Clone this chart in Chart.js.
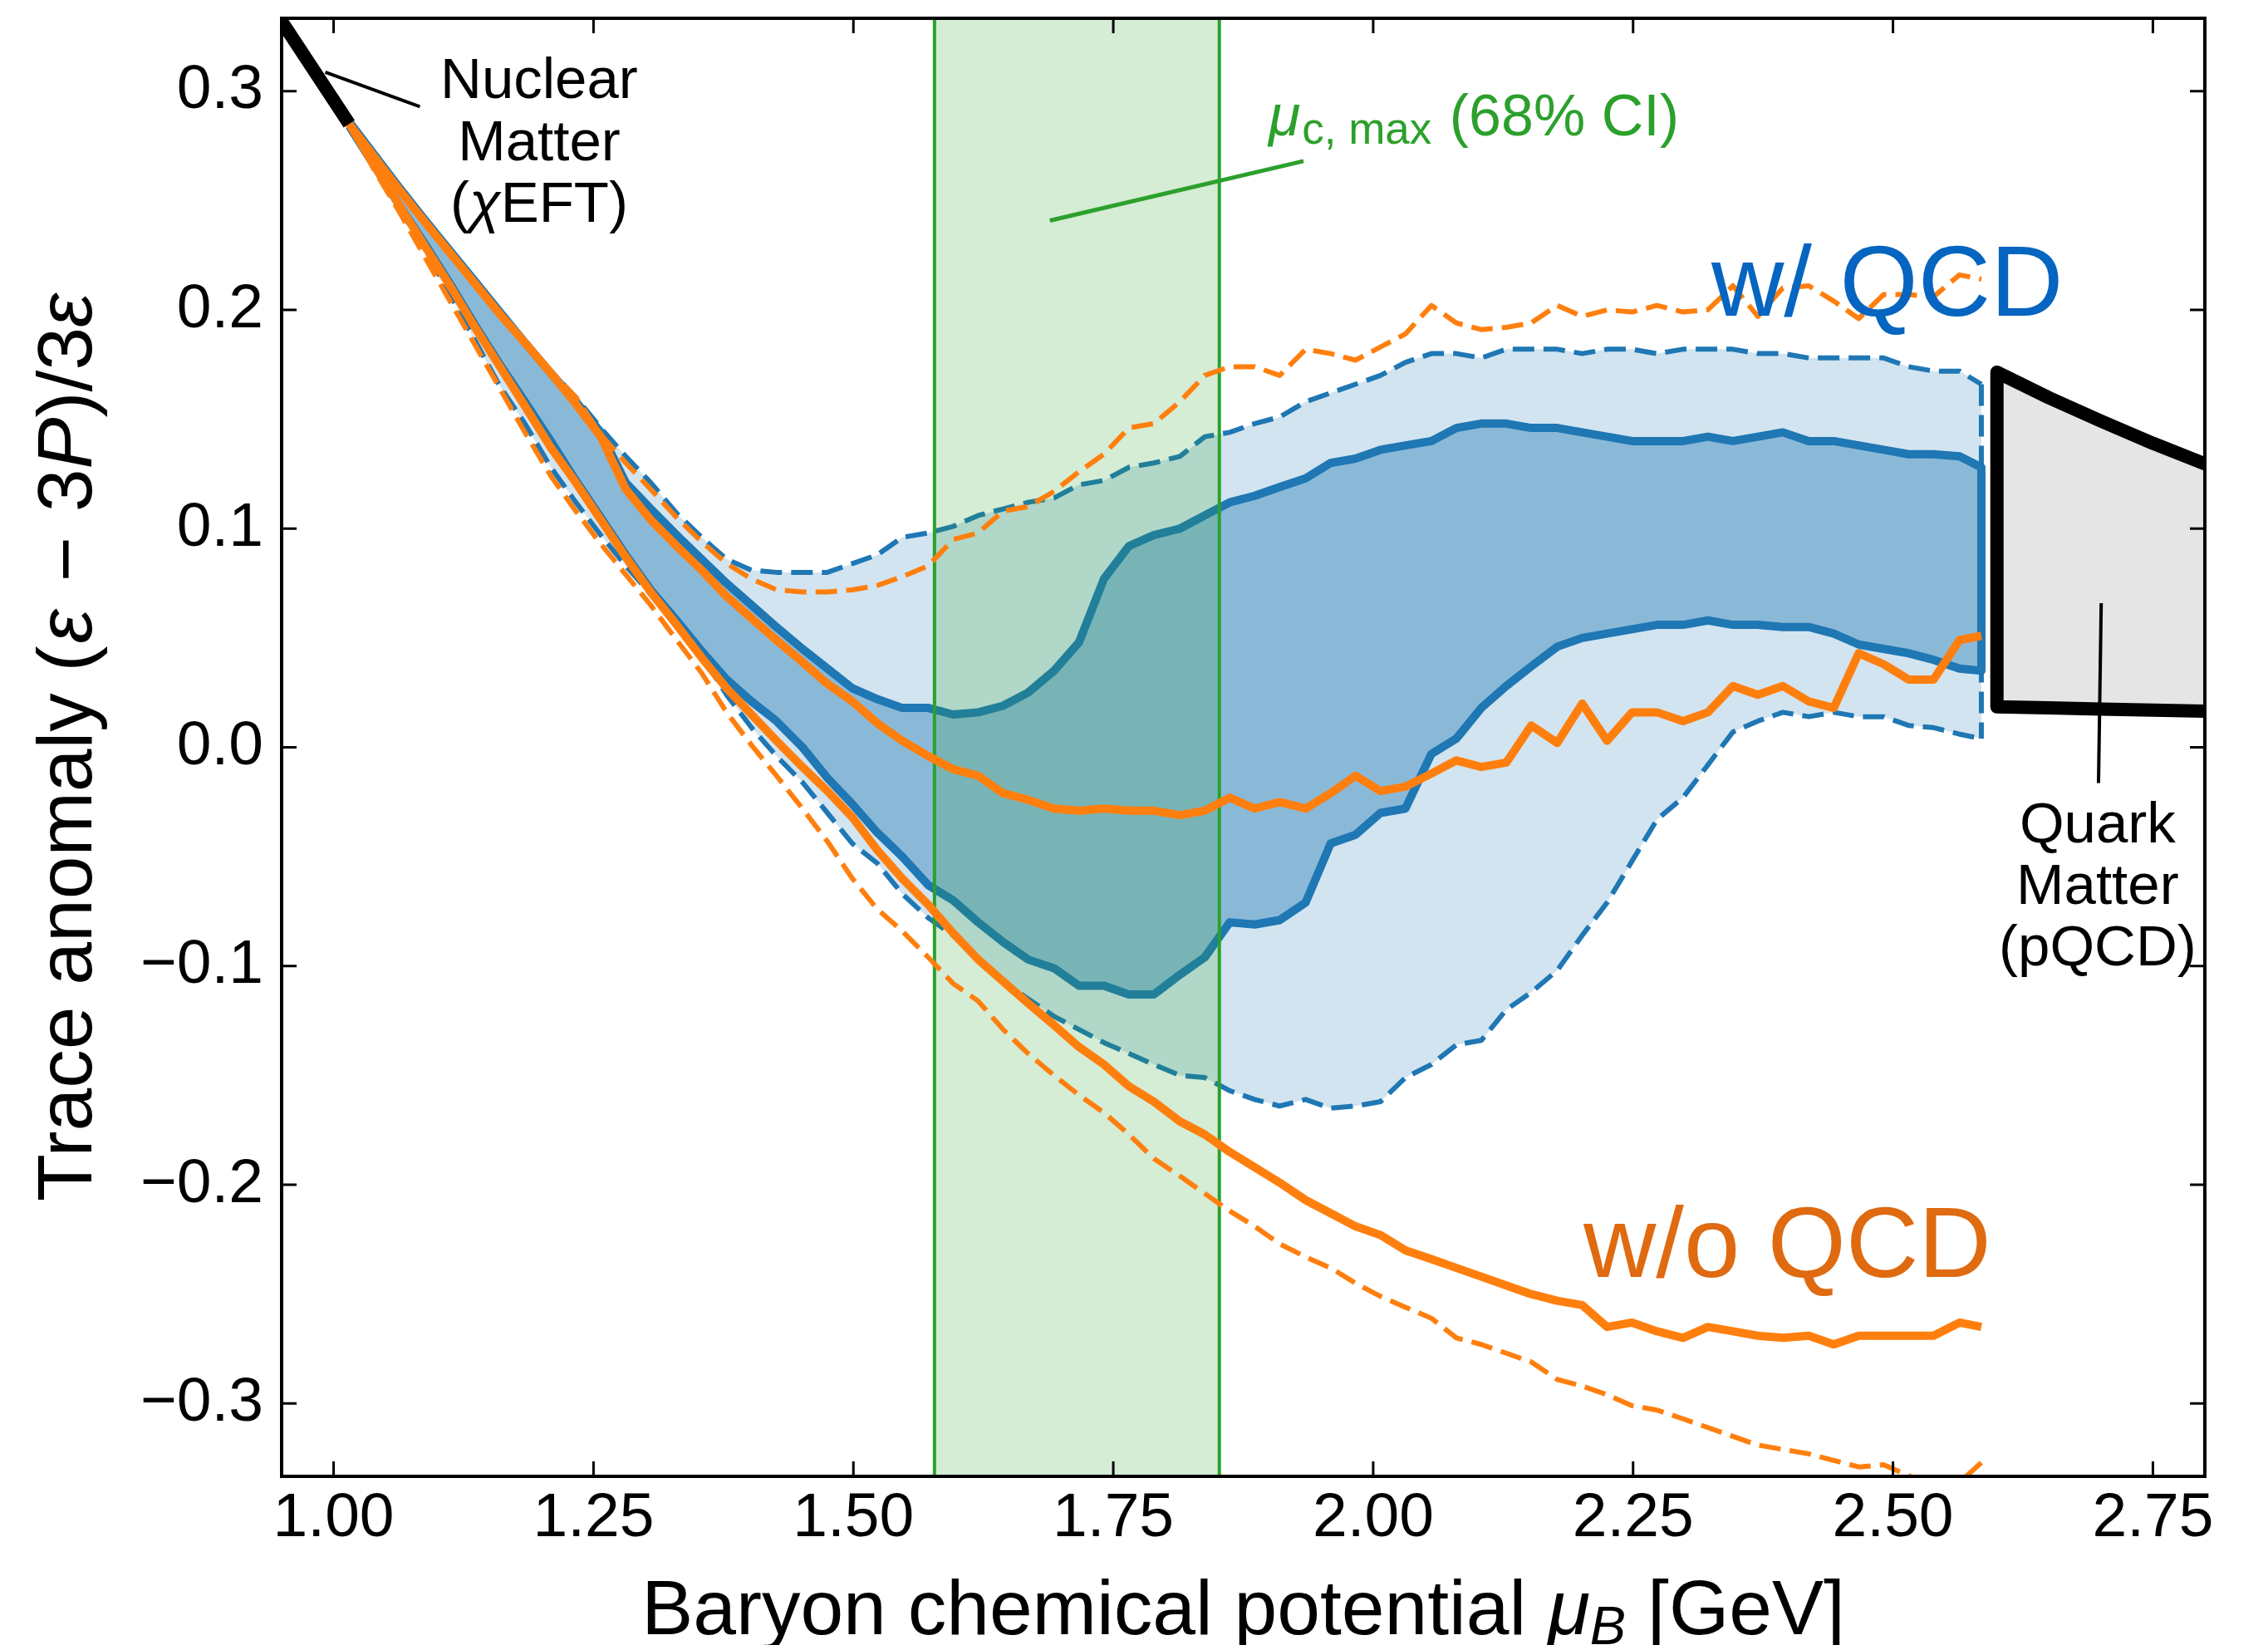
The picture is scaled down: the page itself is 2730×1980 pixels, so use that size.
<!DOCTYPE html>
<html>
<head>
<meta charset="utf-8">
<script src="https://cdn.jsdelivr.net/npm/chart.js@4/dist/chart.umd.min.js"></script>
<style>
html,body{margin:0;padding:0;background:#fff;}
#wrap{width:2730px;height:1980px;position:relative;}
canvas{display:block;}
</style>
</head>
<body>
<div id="wrap"><canvas id="c" width="2730" height="1980"></canvas></div>
<script>
// ---------------- data ----------------
const mu = [1.015,1.039,1.063,1.088,1.112,1.136,1.160,1.184,1.209,1.233,
  1.257,1.281,1.305,1.330,1.354,1.378,1.402,1.426,1.451,1.475,
  1.499,1.523,1.547,1.572,1.596,1.620,1.644,1.668,1.693,1.717,
  1.741,1.765,1.789,1.814,1.838,1.862,1.886,1.910,1.935,1.959,
  1.983,2.007,2.031,2.056,2.080,2.104,2.128,2.152,2.177,2.201,
  2.225,2.249,2.273,2.298,2.322,2.346,2.370,2.394,2.419,2.443,
  2.467,2.491,2.515,2.539,2.564,2.585];

// with QCD, 95% band (dashed edges)
const wqcd95Upper = [0.286,0.271,0.256,0.242,0.227,0.213,0.199,0.186,0.172,0.160,
  0.146,0.133,0.121,0.107,0.096,0.086,0.081,0.080,0.080,0.080,
  0.084,0.088,0.096,0.098,0.101,0.106,0.109,0.112,0.114,0.120,
  0.122,0.128,0.130,0.133,0.142,0.144,0.148,0.151,0.158,0.162,
  0.166,0.170,0.176,0.180,0.180,0.178,0.182,0.182,0.182,0.180,
  0.182,0.182,0.180,0.182,0.182,0.182,0.180,0.180,0.178,0.178,
  0.178,0.178,0.174,0.172,0.172,0.166];
const wqcd95Lower = [0.284,0.265,0.246,0.228,0.207,0.186,0.165,0.148,0.128,0.112,
  0.097,0.083,0.070,0.055,0.042,0.024,0.009,-0.004,-0.016,-0.030,
  -0.044,-0.053,-0.067,-0.078,-0.086,-0.097,-0.107,-0.115,-0.123,-0.129,
  -0.135,-0.140,-0.145,-0.150,-0.151,-0.157,-0.161,-0.164,-0.161,-0.165,
  -0.164,-0.162,-0.151,-0.145,-0.136,-0.134,-0.120,-0.112,-0.102,-0.086,
  -0.071,-0.052,-0.033,-0.023,-0.008,0.007,0.012,0.016,0.014,0.016,
  0.014,0.014,0.010,0.009,0.006,0.004];
// with QCD, 68% band (solid edges)
const wqcd68Upper = [0.286,0.271,0.256,0.241,0.227,0.213,0.199,0.185,0.171,0.158,
  0.144,0.121,0.109,0.097,0.086,0.075,0.065,0.055,0.045,0.036,
  0.027,0.022,0.018,0.018,0.015,0.016,0.019,0.025,0.035,0.048,
  0.077,0.092,0.097,0.100,0.106,0.112,0.115,0.119,0.123,0.130,
  0.132,0.136,0.138,0.140,0.146,0.148,0.148,0.146,0.146,0.144,
  0.142,0.140,0.140,0.140,0.142,0.140,0.142,0.144,0.140,0.140,
  0.138,0.136,0.134,0.134,0.133,0.128];
const wqcd68Lower = [0.284,0.266,0.248,0.230,0.212,0.193,0.175,0.158,0.140,0.122,
  0.105,0.088,0.072,0.058,0.044,0.031,0.021,0.012,0.000,-0.014,
  -0.026,-0.039,-0.050,-0.063,-0.070,-0.080,-0.089,-0.097,-0.101,-0.109,
  -0.109,-0.113,-0.113,-0.104,-0.096,-0.080,-0.081,-0.079,-0.071,-0.044,
  -0.040,-0.030,-0.028,-0.003,0.004,0.018,0.028,0.037,0.046,0.050,
  0.052,0.054,0.056,0.056,0.058,0.056,0.056,0.055,0.055,0.052,
  0.047,0.045,0.043,0.040,0.036,0.035];
// without QCD, 68% (solid) and 95% (dashed)
const woqcd68Upper = [0.285,0.270,0.255,0.240,0.226,0.212,0.198,0.185,0.171,0.157,
  0.142,0.118,0.104,0.092,0.081,0.069,0.059,0.049,0.039,0.029,
  0.021,0.011,0.003,-0.004,-0.010,-0.013,-0.021,-0.024,-0.028,-0.029,
  -0.028,-0.029,-0.029,-0.031,-0.029,-0.023,-0.028,-0.025,-0.028,-0.021,
  -0.013,-0.020,-0.018,-0.012,-0.006,-0.009,-0.007,0.010,0.002,0.020,
  0.003,0.016,0.016,0.012,0.016,0.028,0.024,0.028,0.021,0.018,
  0.043,0.038,0.031,0.031,0.049,0.051];
const woqcd68Lower = [0.285,0.266,0.248,0.229,0.211,0.192,0.174,0.156,0.137,0.121,
  0.104,0.087,0.071,0.056,0.041,0.027,0.015,0.003,-0.009,-0.020,
  -0.032,-0.047,-0.060,-0.072,-0.085,-0.097,-0.107,-0.117,-0.127,-0.137,
  -0.145,-0.155,-0.162,-0.171,-0.177,-0.185,-0.192,-0.199,-0.207,-0.213,
  -0.219,-0.223,-0.230,-0.234,-0.238,-0.242,-0.246,-0.250,-0.253,-0.255,
  -0.265,-0.263,-0.267,-0.270,-0.265,-0.267,-0.269,-0.270,-0.269,-0.273,
  -0.269,-0.269,-0.269,-0.269,-0.263,-0.265];
const woqcd95Upper = [0.285,0.270,0.255,0.241,0.226,0.212,0.198,0.185,0.172,0.160,
  0.143,0.130,0.118,0.105,0.094,0.084,0.077,0.072,0.071,0.071,
  0.072,0.074,0.078,0.083,0.095,0.098,0.108,0.110,0.117,0.126,
  0.134,0.146,0.148,0.158,0.170,0.174,0.174,0.170,0.182,0.180,
  0.177,0.183,0.189,0.202,0.194,0.191,0.192,0.194,0.202,0.197,
  0.200,0.199,0.202,0.199,0.200,0.211,0.197,0.210,0.211,0.204,
  0.196,0.207,0.207,0.206,0.216,0.214];
const woqcd95Lower = [0.285,0.264,0.245,0.224,0.204,0.184,0.164,0.144,0.124,0.108,
  0.093,0.079,0.065,0.049,0.034,0.016,0.001,-0.013,-0.028,-0.043,
  -0.060,-0.074,-0.084,-0.096,-0.108,-0.116,-0.129,-0.140,-0.150,-0.159,
  -0.167,-0.177,-0.188,-0.196,-0.204,-0.212,-0.219,-0.227,-0.233,-0.238,
  -0.245,-0.251,-0.256,-0.261,-0.270,-0.273,-0.277,-0.281,-0.289,-0.292,
  -0.296,-0.301,-0.303,-0.307,-0.311,-0.315,-0.319,-0.321,-0.323,-0.326,
  -0.329,-0.328,-0.333,-0.337,-0.336,-0.327];

// nuclear matter (chiEFT) segment
const chiEftMu = [0.945, 1.015];
const chiEftVal = [0.3355, 0.285];
// quark matter (pQCD) region
const pqcdMu = [2.60, 2.65, 2.70, 2.75, 2.80];
const pqcdUpper = [0.1715, 0.1598, 0.1492, 0.1390, 0.1296];
const pqcdLower = [0.0185, 0.0180, 0.0175, 0.0170, 0.0165];
// mu_c,max 68% credible interval
const muCmax = [1.578, 1.852];

// ticks
const xTicks = [1.00, 1.25, 1.50, 1.75, 2.00, 2.25, 2.50, 2.75];
const yTicks = [-0.3, -0.2, -0.1, 0.0, 0.1, 0.2, 0.3];

// annotation connector lines (data coordinates)
const nuclearPointer = {x: [0.992, 1.083], y: [0.3087, 0.2929]};
const quarkPointer = {x: [2.7003, 2.6977], y: [0.0659, -0.0163]};
const muPointer = {x: [1.689, 1.933], y: [0.2408, 0.2680]};

// ---------------- styling ----------------
const FONT = '"Liberation Sans", Arial, Helvetica, sans-serif';
const BLUE = '#1f77b4', ORANGE = '#ff7f0e', GREEN = '#2ca02c';
const DASH = [26, 11];
const pts = (xs, ys) => xs.map((x, i) => ({x: x, y: ys[i]}));
const last = a => a[a.length - 1];
const muEnd = last(mu);

function line(data, color, width, extra) {
  return Object.assign({
    type: 'line', data: data, borderColor: color, borderWidth: width,
    pointRadius: 0, pointHoverRadius: 0, fill: false, tension: 0, clip: 0,
    borderJoinStyle: 'round', borderCapStyle: 'butt'
  }, extra || {});
}

const pqcdOutline = pts(pqcdMu.slice().reverse(), pqcdLower.slice().reverse())
  .concat(pts(pqcdMu, pqcdUpper));

const datasets = [
  line(pts(mu, wqcd95Upper), BLUE, 6, {borderDash: DASH, fill: '+1', backgroundColor: 'rgba(31,119,180,0.2)', order: 40}),
  line(pts(mu, wqcd95Lower), BLUE, 6, {borderDash: DASH, order: 39}),
  line([{x: muEnd, y: last(wqcd95Upper)}, {x: muEnd, y: last(wqcd95Lower)}], BLUE, 6, {borderDash: DASH, order: 38}),
  line(pts(mu, wqcd68Upper), BLUE, 10, {fill: '+1', backgroundColor: 'rgba(31,119,180,0.4)', order: 37}),
  line(pts(mu, wqcd68Lower), BLUE, 10, {order: 36}),
  line([{x: muEnd, y: last(wqcd68Upper)}, {x: muEnd, y: last(wqcd68Lower)}], BLUE, 10, {order: 35}),
  // green credible-interval span
  line([{x: muCmax[0], y: 0.5}, {x: muCmax[1], y: 0.5}], 'rgba(0,0,0,0)', 1, {fill: {value: -0.5}, backgroundColor: 'rgba(44,160,44,0.2)', order: 34}),
  line([{x: muCmax[0], y: -0.5}, {x: muCmax[0], y: 0.5}], GREEN, 4, {order: 33}),
  line([{x: muCmax[1], y: -0.5}, {x: muCmax[1], y: 0.5}], GREEN, 4, {order: 32}),
  // without QCD
  line(pts(mu, woqcd95Upper), ORANGE, 6, {borderDash: DASH, order: 31}),
  line(pts(mu, woqcd95Lower), ORANGE, 6, {borderDash: DASH, order: 30}),
  line(pts(mu, woqcd68Upper), ORANGE, 10, {order: 29}),
  line(pts(mu, woqcd68Lower), ORANGE, 10, {order: 28}),
  // chiEFT
  line(pts(chiEftMu, chiEftVal), '#000', 16, {order: 27}),
  // pQCD region
  line(pts(pqcdMu, pqcdUpper), 'rgba(0,0,0,0)', 1, {fill: '+1', backgroundColor: '#e5e5e5', order: 26}),
  line(pts(pqcdMu, pqcdLower), 'rgba(0,0,0,0)', 1, {order: 25}),
  line(pqcdOutline, '#000', 16, {order: 24, borderCapStyle: 'round'}),
  // annotation connectors
  line(pts(nuclearPointer.x, nuclearPointer.y), '#000', 4, {order: 23}),
  line(pts(quarkPointer.x, quarkPointer.y), '#000', 4, {order: 22}),
  line(pts(muPointer.x, muPointer.y), GREEN, 5, {order: 21})
];

// ---------------- rich text helper ----------------
function drawRich(ctx, parts, x, y, align) {
  let total = 0;
  const ws = parts.map(p => { ctx.font = p.f; const w = ctx.measureText(p.t).width + (p.gap || 0) * 2; total += w; return w; });
  let cx = align === 'center' ? x - total / 2 : (align === 'right' ? x - total : x);
  ctx.textAlign = 'left';
  ctx.textBaseline = 'alphabetic';
  parts.forEach((p, i) => {
    ctx.font = p.f;
    if (p.c) ctx.fillStyle = p.c;
    ctx.fillText(p.t, cx + (p.gap || 0), y + (p.dy || 0));
    cx += ws[i];
  });
}
const F = (size, italic) => (italic ? 'italic ' : '') + size + 'px ' + FONT;

const decor = {
  id: 'decor',
  afterDatasetsDraw(chart) {
    const {ctx, scales: {x, y}} = chart;
    ctx.save();
    ctx.fillStyle = '#000';
    // Nuclear matter label
    let px = x.getPixelForValue(1.1977), py = y.getPixelForValue(0.2968);
    drawRich(ctx, [{t: 'Nuclear', f: F(69)}], px, py, 'center');
    drawRich(ctx, [{t: 'Matter', f: F(69)}], px, py + 74.5, 'center');
    drawRich(ctx, [{t: '(', f: F(69)}, {t: 'χ', f: F(69, true)}, {t: 'EFT)', f: F(69)}], px, py + 149, 'center');
    // Quark matter label
    px = x.getPixelForValue(2.6968); py = y.getPixelForValue(-0.0435);
    drawRich(ctx, [{t: 'Quark', f: F(69)}], px, py, 'center');
    drawRich(ctx, [{t: 'Matter', f: F(69)}], px, py + 74, 'center');
    drawRich(ctx, [{t: '(pQCD)', f: F(69)}], px, py + 148, 'center');
    // mu_c,max label
    px = x.getPixelForValue(1.8993); py = y.getPixelForValue(0.2798);
    drawRich(ctx, [
      {t: 'μ', f: F(70, true), c: GREEN},
      {t: 'c, max', f: F(53), dy: 10, c: GREEN, gap: 2},
      {t: ' (68% CI)', f: F(70), c: GREEN}
    ], px, py, 'left');
    // w/ QCD, w/o QCD
    drawRich(ctx, [{t: 'w/ QCD', f: F(121), c: '#0565c0'}], x.getPixelForValue(2.3253), y.getPixelForValue(0.1973), 'left');
    drawRich(ctx, [{t: 'w/o QCD', f: F(121), c: '#df6a10'}], x.getPixelForValue(2.2022), y.getPixelForValue(-0.2421), 'left');
    ctx.restore();
  },
  afterDraw(chart) {
    const {ctx, scales: {x, y}, chartArea: a} = chart;
    ctx.save();
    ctx.strokeStyle = '#000';
    ctx.lineCap = 'butt';
    ctx.lineWidth = 3;
    ctx.beginPath();
    xTicks.forEach(v => {
      const p = x.getPixelForValue(v);
      ctx.moveTo(p, a.bottom); ctx.lineTo(p, a.bottom - 18);
      ctx.moveTo(p, a.top); ctx.lineTo(p, a.top + 18);
    });
    yTicks.forEach(v => {
      const p = y.getPixelForValue(v);
      ctx.moveTo(a.left, p); ctx.lineTo(a.left + 18, p);
      ctx.moveTo(a.right, p); ctx.lineTo(a.right - 18, p);
    });
    ctx.stroke();
    ctx.lineWidth = 4;
    ctx.lineJoin = 'miter';
    ctx.strokeRect(a.left, a.top, a.right - a.left, a.bottom - a.top);
    // axis titles
    ctx.fillStyle = '#000';
    drawRich(ctx, [
      {t: 'Baryon chemical potential ', f: F(93)},
      {t: 'μ', f: F(93, true)},
      {t: 'B', f: F(65, true), dy: 12},
      {t: ' [GeV]', f: F(93)}
    ], (a.left + a.right) / 2, 1967, 'center');
    ctx.translate(110, (a.top + a.bottom) / 2);
    ctx.rotate(-Math.PI / 2);
    drawRich(ctx, [
      {t: 'Trace anomaly (', f: F(93)},
      {t: 'ε', f: F(93, true), gap: 3},
      {t: '−', f: F(93), gap: 30},
      {t: '3', f: F(93)},
      {t: 'P', f: F(93, true)},
      {t: ')/3', f: F(93)},
      {t: 'ε', f: F(93, true)}
    ], 0, 0, 'center');
    ctx.restore();
  }
};

new Chart(document.getElementById('c'), {
  type: 'line',
  data: {datasets: datasets},
  options: {
    responsive: false,
    devicePixelRatio: 1,
    animation: false,
    events: [],
    layout: {padding: {left: 0, right: 76, top: 22, bottom: 0}},
    plugins: {legend: {display: false}, tooltip: {enabled: false}},
    scales: {
      x: {
        type: 'linear', min: 0.95, max: 2.8,
        grid: {display: false, drawTicks: false},
        border: {display: false},
        afterBuildTicks: s => { s.ticks = xTicks.map(v => ({value: v})); },
        afterFit: s => { s.height = 203; s.paddingLeft = 0; s.paddingRight = 0; },
        ticks: {
          autoSkip: false, maxRotation: 0, padding: 6, color: '#000',
          font: {family: FONT, size: 75},
          callback: v => Number(v).toFixed(2)
        }
      },
      y: {
        type: 'linear', min: -0.3333, max: 0.3333,
        grid: {display: false, drawTicks: false},
        border: {display: false},
        afterBuildTicks: s => { s.ticks = yTicks.map(v => ({value: v})); },
        afterFit: s => { s.width = 339; s.paddingTop = 0; s.paddingBottom = 0; },
        ticks: {
          autoSkip: false, padding: 22, color: '#000',
          font: {family: FONT, size: 75},
          callback: v => (v < -1e-9 ? '\u2212' : '') + Math.abs(v).toFixed(1)
        }
      }
    }
  },
  plugins: [decor]
});
</script>
</body>
</html>
